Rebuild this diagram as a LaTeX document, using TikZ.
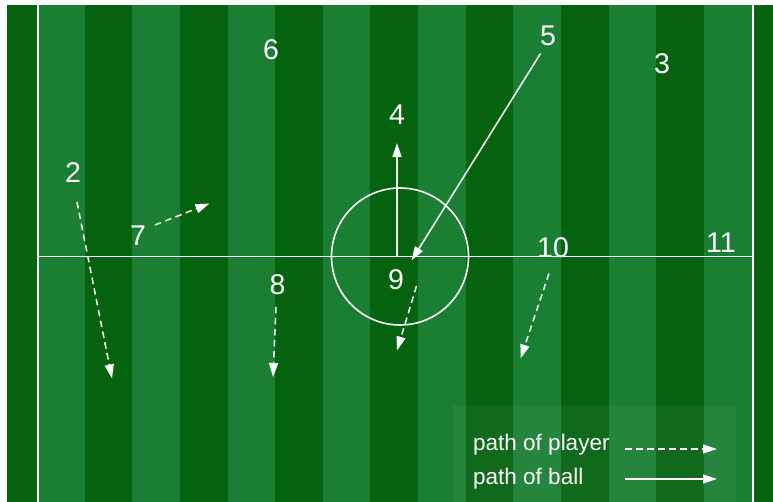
\documentclass[tikz,border=0pt]{standalone}
\usepackage{fontspec}
\setmainfont{Liberation Sans}
\usetikzlibrary{arrows.meta}
\definecolor{darkgrass}{HTML}{05620F}
\definecolor{lightgrass}{HTML}{1A7F32}
\tikzset{
  fieldline/.style={white, line width=1.6pt},
  num/.style={text=white, font=\fontsize{28.5}{28.5}\selectfont, inner sep=0pt},
  legtext/.style={text=white, font=\fontsize{22.5}{22.5}\selectfont, inner sep=0pt, anchor=west},
  ballpath/.style={white, line width=1.5pt, -{Triangle[length=14pt, width=9pt]}},
  playerpath/.style={ballpath, dash pattern=on 6.5pt off 4.5pt},
}
\begin{document}
\begin{tikzpicture}[x=1pt,y=-1pt]
\useasboundingbox (0,0) rectangle (773,502);
\fill[white] (0,0) rectangle (773,502);
\fill[darkgrass] (7,5) rectangle (773,502);
\foreach \k in {0,...,7}{
  \fill[lightgrass] ({37+95.28*\k},5) rectangle ({37+95.28*\k+47.64},502);
}
% legend panel
\fill[white, opacity=0.05] (453,405.5) rectangle (736,502);
% field lines
\draw[fieldline] (38,5) -- (38,502);
\draw[fieldline] (753,5) -- (753,502);
\draw[fieldline] (38,256.5) -- (753,256.5);
\node[circle, draw=white, line width=1.6pt, minimum size=137pt, inner sep=0pt] (circ) at (400,256.5) {};
% players
\node[num] (p6) at (271,50) {6};
\node[num] (p5) at (548,36) {5};
\node[num] (p3) at (662,64) {3};
\node[num] (p4) at (397,115) {4};
\node[num] (p2) at (73,172.5) {2};
\node[num] (p7) at (138,236) {7};
\node[num] (p9) at (396,280) {9};
\node[num] (p10) at (553,248) {10};
\node[num] (p11) at (721,242.5) {11};
\node[num] (p8) at (277.5,285) {8};
% path end points
\coordinate (s2) at (77,202);   \coordinate (e2) at (112,378.5);
\coordinate (s8) at (276,307);  \coordinate (e8) at (273,377);
\coordinate (s10) at (549,273.5); \coordinate (e10) at (520.5,358.5);
\coordinate (s9) at (416.5,286); \coordinate (e9) at (397,350.5);
\coordinate (s7) at (155,225);  \coordinate (e7) at (209.5,203.5);
\coordinate (s4) at (397,256.5); \coordinate (e4) at (397,143);
\coordinate (s5) at (540.5,53.5); \coordinate (e5) at (411.5,260.5);
% player paths
\draw[playerpath] (s2) -- (e2);
\draw[playerpath] (s8) -- (e8);
\draw[playerpath] (s10) -- (e10);
\draw[playerpath] (s9) -- (e9);
\draw[playerpath] (s7) -- (e7);
% ball paths
\draw[ballpath] (s4) -- (e4);
\draw[ballpath] (s5) -- (e5);
% legend
\node[legtext] (lp) at (473,444.5) {path of player};
\node[legtext] (lb) at (473,478.5) {path of ball};
\coordinate (lps) at (625,449); \coordinate (lpe) at (717,449);
\coordinate (lbs) at (625,479); \coordinate (lbe) at (717,479);
\draw[playerpath] (lps) -- (lpe);
\draw[ballpath] (lbs) -- (lbe);
\end{tikzpicture}
\end{document}
